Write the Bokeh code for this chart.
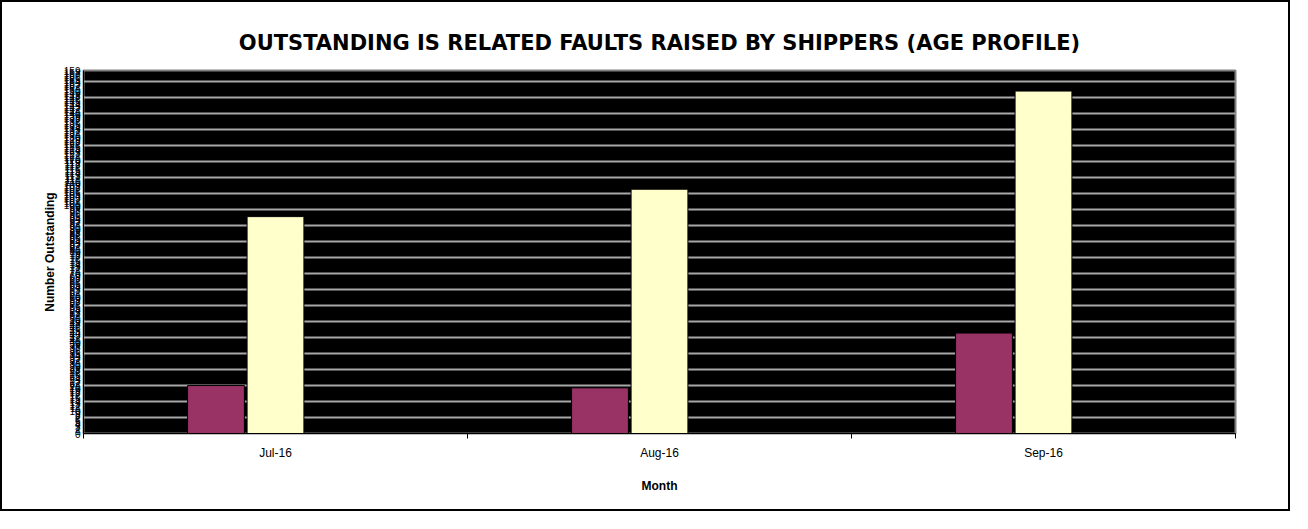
from bokeh.plotting import figure
from bokeh.models import Range1d, FixedTicker
from bokeh.embed import file_html
from bokeh.resources import INLINE

# ---- data ----
months = ["Jul-16", "Aug-16", "Sep-16"]
age_band_1 = [21, 20, 44]      # purple series
age_band_2 = [95, 107, 150]    # cream series
age_band_3 = [0, 0, 0]         # third (empty) series
y_max = 159
grid_step = 7

FONT = "Liberation Sans"

p = figure(width=1290, height=511, output_backend="svg", toolbar_location=None,
           x_range=Range1d(0, len(months)), y_range=Range1d(0, y_max),
           min_border_left=81, min_border_right=57, min_border_top=68,
           min_border_bottom=80)
p.styles = {"border": "2px solid black"}

p.background_fill_color = "black"
p.border_fill_color = "white"
p.outline_line_color = "#808080"
p.outline_line_width = 2

centers = [i + 0.5 for i in range(len(months))]
bw = 0.148
p.vbar(x=[c - 0.155 for c in centers], top=age_band_1, width=bw,
       fill_color="#993366", line_color="black", line_width=1)
p.vbar(x=centers, top=age_band_2, width=bw,
       fill_color="#FFFFCC", line_color="black", line_width=1)
p.vbar(x=[c + 0.155 for c in centers], top=age_band_3, width=bw,
       fill_color="#CCFFFF", line_color=None)

# title
p.title.text = "OUTSTANDING IS RELATED FAULTS RAISED BY SHIPPERS (AGE PROFILE)"
p.title.align = "center"
p.title.text_font = "DejaVu Sans"
p.title.text_font_size = "21px"
p.title.text_font_style = "bold"
p.title.text_color = "black"
p.title.standoff = 32

# x axis
xa = p.xaxis[0]
xa.ticker = FixedTicker(ticks=centers, minor_ticks=list(range(len(months) + 1)))
xa.major_label_overrides = {c: m for c, m in zip(centers, months)}
xa.major_tick_out = 0
xa.major_tick_in = 0
xa.minor_tick_out = 5
xa.minor_tick_in = 0
xa.minor_tick_line_color = "black"
xa.axis_line_color = "black"
xa.major_label_text_font = FONT
xa.major_label_text_font_size = "12px"
xa.major_label_text_color = "black"
xa.major_label_standoff = 7
xa.axis_label = "Month"
xa.axis_label_text_font = FONT
xa.axis_label_text_font_size = "12px"
xa.axis_label_text_font_style = "bold"
xa.axis_label_text_color = "black"
xa.axis_label_standoff = 16

# y axis (dense labels as in the source)
ya = p.yaxis[0]
ya.ticker = FixedTicker(ticks=list(range(0, y_max + 1)))
ya.major_tick_out = 0
ya.major_tick_in = 0
ya.minor_tick_line_color = None
ya.axis_line_color = "black"
ya.major_label_text_font = FONT
ya.major_label_text_font_size = "10px"
ya.major_label_text_color = "black"
ya.major_label_standoff = 3
ya.axis_label = "Number Outstanding"
ya.axis_label_text_font = FONT
ya.axis_label_text_font_size = "12px"
ya.axis_label_text_font_style = "bold"
ya.axis_label_text_color = "black"
ya.axis_label_standoff = 4

p.xgrid.grid_line_color = None
p.ygrid.ticker = FixedTicker(ticks=list(range(0, y_max + 1, grid_step)))
p.ygrid.grid_line_color = "#a8a8a8"
p.ygrid.grid_line_width = 2

open("out.html", "w").write(file_html(p, INLINE))
